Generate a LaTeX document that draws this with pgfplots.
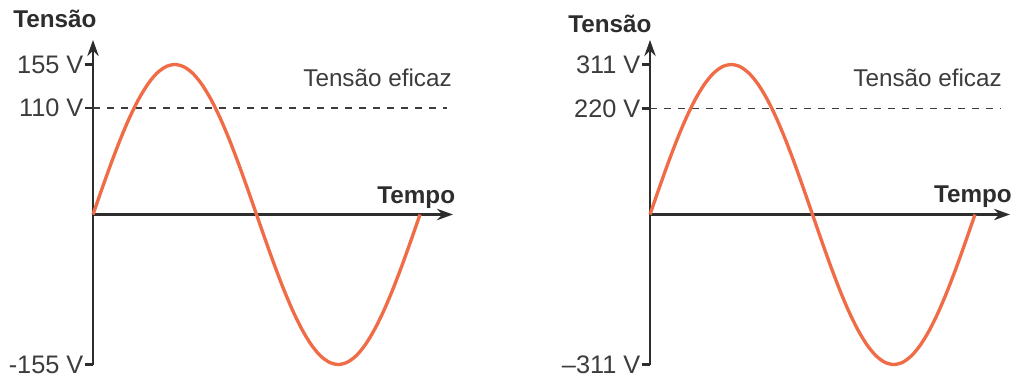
\documentclass[border=0pt]{standalone}
\usepackage{fontspec}
\setmainfont{Liberation Sans}
\usepackage{pgfplots}
\usepackage{pgfplotstable}
\pgfplotsset{compat=1.18}
\usetikzlibrary{arrows.meta}

\definecolor{curva}{RGB}{240,108,70}
\definecolor{eixo}{RGB}{45,45,45}
\definecolor{texto}{RGB}{60,60,60}

% Tensão instantânea (V) ao longo de um ciclo (fase em graus)
\pgfplotstableread{
t v
0 0
10 26.9
20 53.0
30 77.5
40 99.6
50 118.7
60 134.2
70 145.7
80 152.6
90 155.0
100 152.6
110 145.7
120 134.2
130 118.7
140 99.6
150 77.5
160 53.0
170 26.9
180 0
190 -26.9
200 -53.0
210 -77.5
220 -99.6
230 -118.7
240 -134.2
250 -145.7
260 -152.6
270 -155.0
280 -152.6
290 -145.7
300 -134.2
310 -118.7
320 -99.6
330 -77.5
340 -53.0
350 -26.9
360 0
}\redecentoedez

\pgfplotstableread{
t v
0 0
10 54.0
20 106.4
30 155.5
40 199.9
50 238.2
60 269.3
70 292.2
80 306.3
90 311.0
100 306.3
110 292.2
120 269.3
130 238.2
140 199.9
150 155.5
160 106.4
170 54.0
180 0
190 -54.0
200 -106.4
210 -155.5
220 -199.9
230 -238.2
240 -269.3
250 -292.2
260 -306.3
270 -311.0
280 -306.3
290 -292.2
300 -269.3
310 -238.2
320 -199.9
330 -155.5
340 -106.4
350 -54.0
360 0
}\rededuzentosevinte

\pgfplotsset{
  onda/.style={
    scale only axis, width=270pt, height=243.375pt,
    axis lines=middle, xmin=0,
    axis line style={eixo, line width=2.1pt, -{Stealth[length=12pt,width=8.5pt]}},
    xtick=\empty,
    ytick style={eixo, line width=2.1pt},
    tick align=outside, major tick length=6pt,
    yticklabel style={font=\fontsize{19}{22}\selectfont, text=texto, inner xsep=1pt},
    clip=false,
  },
}

\newcommand{\rotulo}{\fontsize{18.2}{21}\selectfont}

\begin{document}
\begin{tikzpicture}
\path[use as bounding box] (0pt,0pt) rectangle (759.75pt,284.25pt);

% Rede de 110 V
\begin{axis}[onda, at={(69.75pt,10.875pt)}, anchor=south west,
  xmax=396.3, ymin=-155, ymax=180.3,
  ytick={-155,110,155}, yticklabels={-155 V,110 V,155 V}]
  \addplot[texto, line width=1.2pt, dash pattern=on 5pt off 5.5pt] coordinates {(0,110) (390,110)};
  \addplot[curva, line width=2.5pt, smooth] table[x=t, y=v] {\redecentoedez};
\end{axis}

% Rede de 220 V
\begin{axis}[onda, at={(487.5pt,10.875pt)}, anchor=south west,
  xmax=398.8, ymin=-311, ymax=361.8,
  ytick={-311,220,311}, yticklabels={–311 V,220 V,311 V}]
  \addplot[texto, line width=1.2pt, dash pattern=on 5pt off 5.5pt] coordinates {(0,220) (388,220)};
  \addplot[curva, line width=2.5pt, smooth] table[x=t, y=v] {\rededuzentosevinte};
\end{axis}

\begin{scope}[every node/.style={inner sep=0pt}]
  \node[anchor=base west, text=eixo, font=\rotulo\bfseries] at (9.75pt,263.25pt) {Tensão};
  \node[anchor=base west, text=eixo, font=\rotulo\bfseries] at (426pt,259.5pt) {Tensão};
  \node[anchor=base east, text=eixo, font=\rotulo\bfseries] at (341.5pt,132pt) {Tempo};
  \node[anchor=base east, text=eixo, font=\rotulo\bfseries] at (759pt,132.75pt) {Tempo};
  \node[anchor=base east, text=texto, font=\rotulo] at (339pt,219pt) {Tensão eficaz};
  \node[anchor=base east, text=texto, font=\rotulo] at (751.5pt,219pt) {Tensão eficaz};
\end{scope}
\end{tikzpicture}
\end{document}
